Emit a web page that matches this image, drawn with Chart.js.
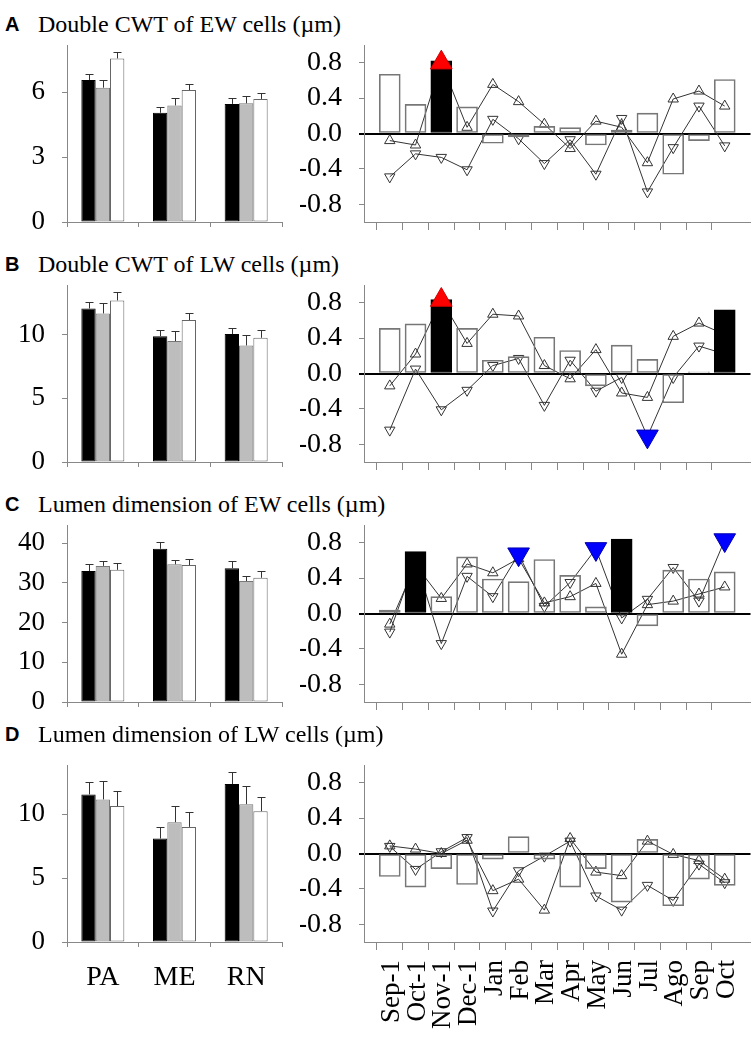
<!DOCTYPE html>
<html><head><meta charset="utf-8">
<script src="https://cdn.jsdelivr.net/npm/chart.js@4.4.1/dist/chart.umd.min.js"></script>
<style>
html,body{margin:0;padding:0;background:#fff;}
#wrap{position:relative;width:756px;height:1051px;overflow:hidden;background:#fff;}
canvas{position:absolute;}
.lt{position:absolute;font-family:"Liberation Sans",Arial,sans-serif;font-weight:bold;font-size:20px;line-height:1;color:#000;}
.tt{position:absolute;font-family:"Liberation Serif","Times New Roman",serif;font-size:24px;line-height:1;color:#000;white-space:nowrap;}
</style></head><body><div id="wrap"></div>
<script>
// ---------- shared categories / ticks ----------
const groups = ['PA', 'ME', 'RN'];
const months = ['Sep-1','Oct-1','Nov-1','Dec-1','Jan','Feb','Mar','Apr','May','Jun','Jul','Ago','Sep','Oct'];
const corrTicks = [-0.8, -0.4, 0, 0.4, 0.8];

// ---------- Panel A ----------
const letterA = 'A';
const titleA = 'Double CWT of EW cells (µm)';
const ticksA = [0, 3, 6];
const maxA = 8.17;
const blackA = [6.55, 5.04, 5.45];   const blackErrA = [0.28, 0.28, 0.29];
const grayA  = [6.20, 5.38, 5.48];   const grayErrA  = [0.35, 0.36, 0.35];
const whiteA = [7.55, 6.09, 5.68];   const whiteErrA = [0.28, 0.26, 0.29];
const corrBarsA = [0.67, 0.33, 0.82, 0.30, -0.11, -0.04, 0.08, 0.067, -0.13, 0.04, 0.23, -0.46, -0.08, 0.61];
const upA   = [-0.08, -0.13, 0.80, 0.07, 0.555, 0.36, 0.105, -0.17, 0.14, 0.07, -0.33, 0.39, 0.48, 0.31];
const downA = [-0.49, -0.23, -0.27, -0.41, 0.16, -0.06, -0.34, -0.07, -0.46, 0.17, -0.66, -0.16, 0.31, -0.14];
const barSigA = [2];  const upSigA = [2];  const downSigA = [];

// ---------- Panel B ----------
const letterB = 'B';
const titleB = 'Double CWT of LW cells (µm)';
const ticksB = [0, 5, 10];
const maxB = 13.88;
const blackB = [12.04, 9.87, 10.03]; const blackErrB = [0.48, 0.45, 0.44];
const grayB  = [11.65, 9.48, 9.14];  const grayErrB  = [0.84, 0.76, 0.81];
const whiteB = [12.67, 11.13, 9.74]; const whiteErrB = [0.63, 0.55, 0.60];
const corrBarsB = [0.51, 0.56, 0.835, 0.51, 0.15, 0.19, 0.41, 0.26, -0.14, 0.32, 0.16, -0.33, 0.02, 0.72];
const upB   = [-0.14, 0.22, 0.83, 0.34, 0.67, 0.65, 0.09, -0.06, 0.27, -0.22, -0.27, 0.42, 0.57, 0.44];
const downB = [-0.64, 0.05, -0.41, -0.19, 0.09, 0.17, -0.36, 0.15, -0.20, -0.045, -0.71, -0.045, 0.31, 0.22];
const barSigB = [2, 13];  const upSigB = [2];  const downSigB = [10];

// ---------- Panel C ----------
const letterC = 'C';
const titleC = 'Lumen dimension of EW cells (µm)';
const ticksC = [0, 10, 20, 30, 40];
const maxC = 44.6;
const blackC = [33.0, 38.6, 33.7];   const blackErrC = [1.7, 1.65, 1.9];
const grayC  = [34.3, 34.7, 30.5];   const grayErrC  = [1.2, 1.2, 1.2];
const whiteC = [33.3, 34.5, 31.3];   const whiteErrC = [1.6, 1.5, 1.8];
const corrBarsC = [0.04, 0.70, 0.19, 0.64, 0.39, 0.36, 0.61, 0.43, 0.075, 0.84, -0.14, 0.49, 0.39, 0.47];
const upC   = [-0.12, 0.55, 0.17, 0.56, 0.46, 0.62, 0.12, 0.19, 0.34, -0.46, 0.10, 0.14, 0.22, 0.30];
const downC = [-0.21, 0.60, -0.34, 0.42, 0.19, 0.67, 0.08, 0.35, 0.73, -0.05, 0.16, 0.52, 0.14, 0.83];
const barSigC = [1, 9];  const upSigC = [];  const downSigC = [5, 8, 13];

// ---------- Panel D ----------
const letterD = 'D';
const titleD = 'Lumen dimension of LW cells (µm)';
const ticksD = [0, 5, 10];
const maxD = 13.84;
const blackD = [11.54, 8.09, 12.35]; const blackErrD = [0.94, 0.87, 0.91];
const grayD  = [11.15, 9.37, 10.78]; const grayErrD  = [1.41, 1.28, 1.41];
const whiteD = [10.63, 9.00, 10.23]; const whiteErrD = [1.17, 1.13, 1.13];
const corrBarsD = [-0.26, -0.38, -0.17, -0.35, -0.064, 0.19, -0.064, -0.38, -0.17, -0.55, 0.16, -0.59, -0.29, -0.36];
const upD   = [0.086, 0.05, 0.0, 0.15, -0.42, -0.29, -0.64, 0.17, -0.21, -0.25, 0.14, -0.01, -0.08, -0.29];
const downD = [0.08, -0.18, 0.02, 0.18, -0.65, -0.195, -0.03, 0.14, -0.48, -0.64, -0.36, -0.53, -0.12, -0.33];
const barSigD = [];  const upSigD = [];  const downSigD = [];

// ---------- layout ----------
const SERIF = '"Liberation Serif","Times New Roman",serif';
const panels = [
  {letter:letterA, title:titleA, ticks:ticksA, max:maxA, black:blackA, blackErr:blackErrA, gray:grayA, grayErr:grayErrA, white:whiteA, whiteErr:whiteErrA, bars:corrBarsA, up:upA, down:downA, barSig:barSigA, upSig:upSigA, downSig:downSigA, top:45, base:32},
  {letter:letterB, title:titleB, ticks:ticksB, max:maxB, black:blackB, blackErr:blackErrB, gray:grayB, grayErr:grayErrB, white:whiteB, whiteErr:whiteErrB, bars:corrBarsB, up:upB, down:downB, barSig:barSigB, upSig:upSigB, downSig:downSigB, top:285, base:272},
  {letter:letterC, title:titleC, ticks:ticksC, max:maxC, black:blackC, blackErr:blackErrC, gray:grayC, grayErr:grayErrC, white:whiteC, whiteErr:whiteErrC, bars:corrBarsC, up:upC, down:downC, barSig:barSigC, upSig:upSigC, downSig:downSigC, top:525, base:512},
  {letter:letterD, title:titleD, ticks:ticksD, max:maxD, black:blackD, blackErr:blackErrD, gray:grayD, grayErr:grayErrD, white:whiteD, whiteErr:whiteErrD, bars:corrBarsD, up:upD, down:downD, barSig:barSigD, upSig:upSigD, downSig:downSigD, top:765, base:742}
];

const PLOT_H = 177, PAD_T = 15;
const wrap = document.getElementById('wrap');

const errPlugin = {
  id: 'errbars',
  afterDatasetsDraw(chart) {
    const ctx = chart.ctx, ys = chart.scales.y;
    ctx.save();
    ctx.strokeStyle = '#333';
    ctx.lineWidth = 1;
    chart.data.datasets.forEach((ds, i) => {
      if (!ds.err) return;
      const meta = chart.getDatasetMeta(i);
      meta.data.forEach((bar, j) => {
        const yt = Math.round(ys.getPixelForValue(ds.data[j] + ds.err[j])) + 0.5;
        const x = Math.round(bar.x) + 0.5;
        ctx.beginPath();
        ctx.moveTo(x, bar.y);
        ctx.lineTo(x, yt);
        ctx.moveTo(x - 4, yt);
        ctx.lineTo(x + 4, yt);
        ctx.stroke();
      });
    });
    ctx.restore();
  }
};

function addCanvas(left, top, w, h) {
  const c = document.createElement('canvas');
  c.width = w; c.height = h;
  c.style.left = left + 'px'; c.style.top = top + 'px';
  c.style.width = w + 'px'; c.style.height = h + 'px';
  wrap.appendChild(c);
  return c;
}

const fitY = w => s => { s.width = w; s.paddingTop = 0; s.paddingBottom = 0; };
const fitX = h => s => { s.height = h; s.paddingLeft = 0; s.paddingRight = 0; };

function leftChart(p, showX) {
  const xh = showX ? 60 : 20;
  const c = addCanvas(0, p.top - PAD_T, 300, PAD_T + PLOT_H + xh);
  new Chart(c, {
    type: 'bar',
    data: { labels: groups, datasets: [
      { data: p.black, err: p.blackErr, backgroundColor: '#000', borderColor: '#000' },
      { data: p.gray,  err: p.grayErr,  backgroundColor: '#bdbdbd', borderColor: '#777' },
      { data: p.white, err: p.whiteErr, backgroundColor: '#fff', borderColor: '#666' }
    ]},
    options: {
      responsive: false, animation: false, devicePixelRatio: 1,
      layout: { padding: { top: PAD_T, right: 18, left: 0, bottom: 0 } },
      plugins: { legend: { display: false }, tooltip: { enabled: false } },
      datasets: { bar: { categoryPercentage: 0.6, barPercentage: 1, borderWidth: 1, borderSkipped: false } },
      scales: {
        x: {
          offset: true,
          grid: { drawOnChartArea: false, tickLength: 5, tickColor: '#888', lineWidth: 1 },
          border: { color: '#888', width: 1 },
          ticks: { display: showX, color: '#000', font: { family: SERIF, size: 28 }, padding: 14, maxRotation: 0 },
          afterFit: fitX(xh)
        },
        y: {
          min: 0, max: p.max,
          grid: { drawOnChartArea: false, tickLength: 5, tickColor: '#888' },
          border: { color: '#888', width: 1 },
          ticks: { color: '#000', font: { family: SERIF, size: 27 }, padding: 17 },
          afterBuildTicks: s => { s.ticks = p.ticks.map(v => ({ value: v })); },
          afterFit: fitY(67)
        }
      }
    },
    plugins: [errPlugin]
  });
}

function rightChart(p, showX) {
  const xh = showX ? 105 : 20;
  const c = addCanvas(300, p.top - PAD_T, 464, PAD_T + PLOT_H + xh);
  const labels = ['', ...months, ''];
  const pad = a => [null, ...a, null];
  const barCol = pad(p.bars.map((v, i) => p.barSig.includes(i) ? '#000' : 'rgba(255,255,255,0)'));
  const barBor = pad(p.bars.map((v, i) => p.barSig.includes(i) ? '#000' : '#777'));
  const upHi = pad(p.up.map((v, i) => p.upSig.includes(i) ? v : null));
  const downHi = pad(p.down.map((v, i) => p.downSig.includes(i) ? v : null));
  const upR = pad(p.up.map((v, i) => p.upSig.includes(i) ? 0 : 6));
  const downR = pad(p.down.map((v, i) => p.downSig.includes(i) ? 0 : 6));
  const isZero = ctx => ctx.tick && Math.abs(ctx.tick.value) < 1e-9;
  new Chart(c, {
    type: 'bar',
    data: { labels, datasets: [
      { type: 'line', data: upHi, showLine: false, pointStyle: 'triangle', pointRadius: 12.5,
        pointBackgroundColor: '#ff0000', pointBorderColor: '#d00000', pointBorderWidth: 1, order: 0, clip: false },
      { type: 'line', data: downHi, showLine: false, pointStyle: 'triangle', pointRotation: 180, pointRadius: 12.5,
        pointBackgroundColor: '#0000ff', pointBorderColor: '#0000b0', pointBorderWidth: 1, order: 0, clip: false },
      { type: 'bar', data: pad(p.bars), backgroundColor: barCol, borderColor: barBor, borderWidth: 1,
        borderSkipped: false, barThickness: 21, order: 1 },
      { type: 'line', data: pad(p.up), borderColor: '#333', borderWidth: 1, tension: 0,
        pointStyle: 'triangle', pointRadius: upR, pointBackgroundColor: 'rgba(255,255,255,0)',
        pointBorderColor: '#333', pointBorderWidth: 1, order: 2 },
      { type: 'line', data: pad(p.down), borderColor: '#333', borderWidth: 1, tension: 0,
        pointStyle: 'triangle', pointRotation: 180, pointRadius: downR, pointBackgroundColor: 'rgba(255,255,255,0)',
        pointBorderColor: '#333', pointBorderWidth: 1, order: 3 }
    ]},
    options: {
      responsive: false, animation: false, devicePixelRatio: 1,
      layout: { padding: { top: PAD_T, right: 5, left: 0, bottom: 0 } },
      plugins: { legend: { display: false }, tooltip: { enabled: false } },
      scales: {
        x: {
          offset: false,
          grid: { drawOnChartArea: false, tickLength: 8,
                  tickColor: ctx => (ctx.index === 0 || ctx.index === labels.length - 1) ? 'rgba(0,0,0,0)' : '#888' },
          border: { color: '#888', width: 1 },
          ticks: { display: showX, autoSkip: false, minRotation: 90, maxRotation: 90, color: '#000',
                   font: { family: SERIF, size: 27 }, padding: 10, labelOffset: 2 },
          afterFit: fitX(xh)
        },
        y: {
          min: -1, max: 1,
          grid: { drawOnChartArea: true, tickLength: 5,
                  color: ctx => isZero(ctx) ? '#000' : 'rgba(0,0,0,0)',
                  lineWidth: ctx => isZero(ctx) ? 2 : 1,
                  tickColor: ctx => isZero(ctx) ? '#000' : '#888' },
          border: { color: '#888', width: 1 },
          ticks: { color: '#000', font: { family: SERIF, size: 28 }, padding: 17,
                   callback: v => Number(v).toFixed(1) },
          afterBuildTicks: s => { s.ticks = corrTicks.map(v => ({ value: v })); },
          afterFit: fitY(64)
        }
      }
    }
  });
}

panels.forEach((p, k) => {
  const L = document.createElement('div');
  L.className = 'lt'; L.textContent = p.letter;
  L.style.left = '5px'; L.style.top = (p.base - 1.5 - 16.9) + 'px';
  wrap.appendChild(L);
  const T = document.createElement('div');
  T.className = 'tt'; T.textContent = p.title;
  T.style.left = '38px'; T.style.top = (p.base - 20.1) + 'px';
  wrap.appendChild(T);
  const last = k === panels.length - 1;
  leftChart(p, last);
  rightChart(p, last);
});
</script></body></html>
